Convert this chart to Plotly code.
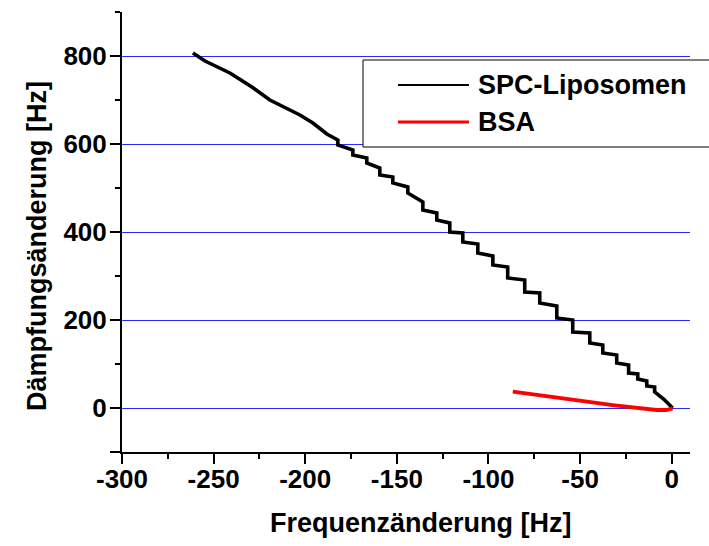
import plotly.graph_objects as go

# SPC-Liposomen: frequency shift vs. damping shift (stepwise adsorption)
spc_freq = [-261.3, -254.7, -241.1, -235.6, -229.1, -219.3, -213.8, -202.9, -195.8,
            -188.2, -182.2, -182.2, -174.0, -174.0, -166.4, -166.4, -159.3, -159.3,
            -152.2, -152.2, -144.0, -144.0, -135.8, -135.8, -128.2, -128.2, -121.1,
            -121.1, -114.0, -114.0, -105.8, -105.8, -97.6, -97.6, -89.5, -89.5,
            -80.2, -80.2, -72.0, -72.0, -62.7, -62.7, -54.0, -54.0, -44.7, -44.7,
            -37.6, -37.6, -30.0, -30.0, -23.5, -23.5, -18.5, -18.5, -13.6, -13.6,
            -9.3, -9.3, -4.4, 0.5]
spc_damp = [806.8, 788.6, 761.4, 747.7, 729.5, 700.0, 688.6, 665.9, 647.7,
            622.7, 609.1, 597.7, 586.4, 575.0, 568.2, 556.8, 545.5, 529.5,
            525.0, 511.4, 502.3, 488.6, 468.2, 450.0, 443.2, 427.3, 420.5,
            400.0, 397.7, 377.3, 372.7, 352.3, 345.5, 325.0, 320.5, 295.5,
            290.9, 263.6, 261.4, 238.6, 231.8, 204.5, 200.0, 172.7, 170.5, 147.7,
            143.2, 125.0, 120.5, 102.3, 97.7, 79.5, 77.3, 65.9, 61.4, 50.0,
            47.7, 36.4, 20.5, 0.0]

# BSA
bsa_freq = [-86.7, -68.3, -50.2, -32.2, -17.5, -8.3, -2.9, 0.5]
bsa_damp = [37.0, 25.7, 16.6, 6.8, -0.7, -4.5, -4.5, -1.0]

x_ticks = [-300, -250, -200, -150, -100, -50, 0]
y_ticks = [-100, 0, 200, 400, 600, 800]
y_ticklabels = ["", "0", "200", "400", "600", "800"]

series_names = ["SPC-Liposomen", "BSA"]
series_colors = ["#000000", "#ff0000"]

x_title = "Frequenzänderung [Hz]"
y_title = "Dämpfungsänderung [Hz]"

FONT = "Liberation Sans"

fig = go.Figure()
fig.add_trace(go.Scatter(x=spc_freq, y=spc_damp, mode="lines", name=series_names[0],
                         line=dict(color=series_colors[0], width=3.6), showlegend=False))
fig.add_trace(go.Scatter(x=bsa_freq, y=bsa_damp, mode="lines", name=series_names[1],
                         line=dict(color=series_colors[1], width=3.8), showlegend=False))

W, H = 709, 546
ML, MR, MT, MB = 122, 19, 12, 94
pw, ph = W - ML - MR, H - MT - MB


def px_x(px):
    return (px - ML) / pw


def px_y(py):
    return (H - MB - py) / ph


# framed legend box (runs past the right edge of the page)
fig.add_shape(type="rect", xref="paper", yref="paper",
              x0=px_x(363), x1=px_x(730), y0=px_y(147), y1=px_y(60),
              line=dict(color="black", width=1), fillcolor="white", layer="above")
rows_y = [85, 122]
line_w = [2, 3]
for name, color, ry, lw in zip(series_names, series_colors, rows_y, line_w):
    fig.add_shape(type="line", xref="paper", yref="paper",
                  x0=px_x(398), x1=px_x(469), y0=px_y(ry), y1=px_y(ry),
                  line=dict(color=color, width=lw), layer="above")
    fig.add_annotation(xref="paper", yref="paper", x=px_x(476), y=px_y(ry),
                       text=name, showarrow=False, xanchor="left", yanchor="middle",
                       font=dict(family=FONT, size=27, color="black", weight="bold"))

title_font = dict(family=FONT, size=27, color="black", weight="bold")
# axis titles
fig.add_annotation(xref="paper", yref="paper", x=px_x(421), y=px_y(523),
                   text=x_title, showarrow=False, xanchor="center", yanchor="middle",
                   font=title_font)
fig.add_annotation(xref="paper", yref="paper", x=px_x(37), y=px_y(246),
                   text=y_title, showarrow=False, xanchor="center", yanchor="middle",
                   textangle=-90, font=title_font)

axis_common = dict(
    showline=True, linecolor="black", linewidth=2,
    ticks="outside", ticklen=10, tickwidth=2, tickcolor="black",
    zeroline=False, mirror=False,
    tickfont=dict(family=FONT, size=26, color="black", weight="bold"),
)

fig.update_xaxes(
    range=[-300, 10], tickmode="array", tickvals=x_ticks,
    ticktext=[str(v) for v in x_ticks], showgrid=False, ticklabelstandoff=-7,
    minor=dict(ticks="outside", ticklen=5, tickwidth=2, tickcolor="black",
               dtick=25, tick0=-300, showgrid=False),
    **axis_common,
)
fig.update_yaxes(
    range=[-100, 900], tickmode="array", tickvals=y_ticks, ticktext=y_ticklabels,
    showgrid=True, gridcolor="#2a2aff", gridwidth=1, ticklabelstandoff=-2,
    minor=dict(ticks="outside", ticklen=5, tickwidth=2, tickcolor="black",
               dtick=100, tick0=-100, showgrid=False),
    **axis_common,
)

fig.update_layout(
    width=W, height=H,
    margin=dict(l=ML, r=MR, t=MT, b=MB),
    paper_bgcolor="white", plot_bgcolor="white",
    showlegend=False,
)

fig.write_html("out.html")
